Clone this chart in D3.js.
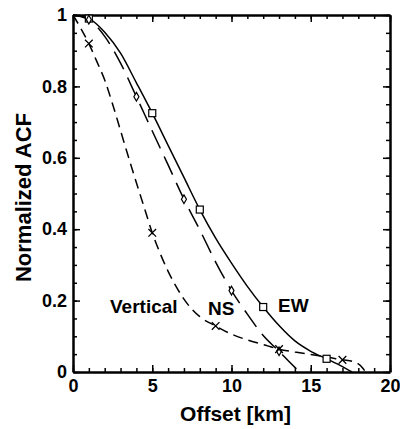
<!DOCTYPE html>
<html>
<head>
<meta charset="utf-8">
<script src="https://cdn.jsdelivr.net/npm/d3@7"></script>
<style>
  html, body { margin: 0; padding: 0; background: #fff; }
  svg { display: block; font-family: "Liberation Sans", Arial, Helvetica, sans-serif; }
  .tick text { font-weight: bold; font-size: 18px; fill: #000; }
</style>
</head>
<body>
<div id="chart"></div>
<script>
// Normalized ACF vs offset, three components.

// --- data ---
const ewX = [0, 1, 2, 3, 4, 5, 6, 7, 8, 9, 10, 11, 12, 13, 14, 15, 16, 17, 17.6];
const ewY = [1, 0.99, 0.952, 0.893, 0.81, 0.725, 0.635, 0.545, 0.455, 0.375, 0.305, 0.24, 0.182, 0.13, 0.087, 0.058, 0.037, 0.015, 0];

const nsX = [0, 1, 2, 3, 4, 5, 6, 7, 8, 9, 10, 11, 12, 13, 14, 14.2];
const nsY = [1, 0.987, 0.94, 0.865, 0.771, 0.675, 0.58, 0.484, 0.398, 0.308, 0.228, 0.162, 0.102, 0.058, 0.013, 0.005];

const vertX = [0, 0.5, 1, 1.5, 2, 2.5, 3, 3.5, 4, 4.5, 5, 5.5, 6, 6.5, 7, 7.5, 8, 9, 10, 11, 12, 13, 14, 15, 16, 17, 17.7, 18.3, 18.4];
const vertY = [1, 0.962, 0.92, 0.87, 0.818, 0.75, 0.676, 0.602, 0.53, 0.46, 0.39, 0.332, 0.282, 0.24, 0.204, 0.176, 0.155, 0.129, 0.106, 0.09, 0.077, 0.064, 0.056, 0.049, 0.042, 0.034, 0.029, 0.01, 0.004];

// marker positions (subset of the curves)
const ewMarkX = [1, 5, 8, 12, 16];
const ewMarkY = [0.99, 0.725, 0.455, 0.182, 0.037];
const nsMarkX = [1, 4, 7, 10, 13];
const nsMarkY = [0.987, 0.771, 0.484, 0.228, 0.058];
const vertMarkX = [1, 5, 9, 13, 17];
const vertMarkY = [0.92, 0.39, 0.129, 0.064, 0.034];

const xMajor = [0, 5, 10, 15, 20];
const yMajor = [0, 0.2, 0.4, 0.6, 0.8, 1];
const yLabels = ["0", "0.2", "0.4", "0.6", "0.8", "1"];

const seriesLabels = [
  { text: "Vertical", x: 110, y: 313 },
  { text: "NS", x: 208, y: 315 },
  { text: "EW", x: 278, y: 312 },
];

// --- layout ---
const W = 400, H = 429;
const L = 73, R = 390, T = 15, B = 372;

const svg = d3.select("#chart").append("svg").attr("width", W).attr("height", H);

const x = d3.scaleLinear().domain([0, 20]).range([L, R]);
const y = d3.scaleLinear().domain([0, 1]).range([B, T]);

const xMinor = d3.range(0, 20.001, 1);
const yMinor = d3.range(0, 1.0001, 0.05);

function axisLayer(axis, transform) {
  const g = svg.append("g").attr("transform", transform).call(axis);
  g.selectAll(".tick line").attr("stroke", "#000").attr("stroke-width", 1.5);
  return g;
}

// minor ticks (all four sides)
[
  [d3.axisBottom(x).tickValues(xMinor), `translate(0,${B})`],
  [d3.axisTop(x).tickValues(xMinor), `translate(0,${T})`],
  [d3.axisLeft(y).tickValues(yMinor), `translate(${L},0)`],
  [d3.axisRight(y).tickValues(yMinor), `translate(${R},0)`],
].forEach(([ax, tr]) => {
  const g = axisLayer(ax.tickSize(-4).tickFormat(""), tr);
  g.select(".domain").remove();
});

// major ticks + frame
const gxb = axisLayer(d3.axisBottom(x).tickValues(xMajor).tickSize(-7).tickSizeOuter(0).tickPadding(7), `translate(0,${B})`);
const gxt = axisLayer(d3.axisTop(x).tickValues(xMajor).tickSize(-7).tickSizeOuter(0).tickFormat(""), `translate(0,${T})`);
const gyl = axisLayer(d3.axisLeft(y).tickValues(yMajor).tickSize(-7).tickSizeOuter(0).tickPadding(6)
  .tickFormat((d, i) => yLabels[i]), `translate(${L},0)`);
const gyr = axisLayer(d3.axisRight(y).tickValues(yMajor).tickSize(-7).tickSizeOuter(0).tickFormat(""), `translate(${R},0)`);
[gxb, gxt, gyl, gyr].forEach((g) => g.select(".domain").attr("stroke", "#000").attr("stroke-width", 2.5));

// axis titles
svg.append("text").attr("x", (L + R) / 2 + 4).attr("y", 421).attr("text-anchor", "middle")
  .style("font-weight", "bold").style("font-size", "21px").text("Offset [km]");
svg.append("text").attr("transform", `translate(31,${(T + B) / 2 + 4}) rotate(-90)`).attr("text-anchor", "middle")
  .style("font-weight", "bold").style("font-size", "22px").text("Normalized ACF");

// --- curves ---
const line = d3.line().x((d) => x(d[0])).y((d) => y(d[1])).curve(d3.curveMonotoneX);
const zip = (a, b) => a.map((v, i) => [v, b[i]]);

const curves = [
  { pts: zip(ewX, ewY), dash: null },
  { pts: zip(nsX, nsY), dash: "20,9" },
  { pts: zip(vertX, vertY), dash: "10,6" },
];
curves.forEach((c) => {
  svg.append("path").attr("d", line(c.pts)).attr("fill", "none")
    .attr("stroke", "#000").attr("stroke-width", 1.5)
    .attr("stroke-dasharray", c.dash);
});

// --- markers ---
svg.append("g").selectAll("rect").data(zip(ewMarkX, ewMarkY)).enter().append("rect")
  .attr("x", (d) => x(d[0]) - 3.5).attr("y", (d) => y(d[1]) - 3.5)
  .attr("width", 7).attr("height", 7)
  .attr("fill", "#fff").attr("stroke", "#000").attr("stroke-width", 1.2);

const diamond = d3.symbol().type(d3.symbolDiamond).size(22);
svg.append("g").selectAll("path").data(zip(nsMarkX, nsMarkY)).enter().append("path")
  .attr("d", diamond)
  .attr("transform", (d) => `translate(${x(d[0])},${y(d[1])})`)
  .attr("fill", "#fff").attr("stroke", "#000").attr("stroke-width", 1.2);

const cross = d3.symbol().type(d3.symbolX).size(40);
svg.append("g").selectAll("path").data(zip(vertMarkX, vertMarkY)).enter().append("path")
  .attr("d", cross)
  .attr("transform", (d) => `translate(${x(d[0])},${y(d[1])})`)
  .attr("fill", "none").attr("stroke", "#000").attr("stroke-width", 1.3);

// --- series labels ---
svg.append("g").selectAll("text").data(seriesLabels).enter().append("text")
  .attr("x", (d) => d.x).attr("y", (d) => d.y)
  .style("font-weight", "bold").style("font-size", "19px")
  .text((d) => d.text);
</script>
</body>
</html>
